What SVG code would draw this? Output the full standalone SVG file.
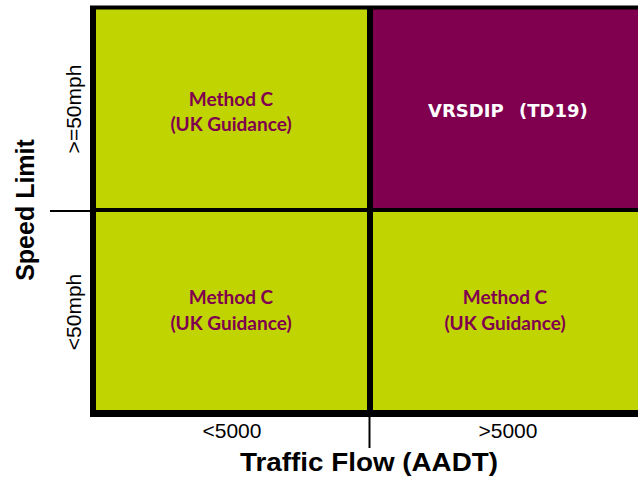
<svg xmlns="http://www.w3.org/2000/svg" width="638" height="479" viewBox="0 0 638 479">
<style>
.green{fill:#BFD400}
.purple{fill:#80004F}
.cell{font-family:Lato,"Open Sans","Liberation Sans",sans-serif;font-weight:bold;font-size:19px;fill:#80004F;text-anchor:middle}
.hd{font-family:"DejaVu Sans",Verdana,sans-serif;font-weight:bold;font-size:18px;fill:#ffffff}
.ax{font-family:"Liberation Sans",Arial,sans-serif;fill:#000;text-anchor:middle}
.line{stroke:#000;fill:none}
</style>
<rect width="638" height="479" fill="#ffffff"/>
<g id="cell-top-left">
<rect class="green" x="96" y="9" width="272" height="200"/>
<text class="cell" x="231" y="106">Method C</text>
<text class="cell" x="231" y="131">(UK Guidance)</text>
</g>
<g id="cell-top-right">
<rect class="purple" x="370" y="9" width="268" height="200"/>
<text class="hd" x="428" y="117">VRSDIP</text>
<text class="hd" x="519" y="117">(TD19)</text>
</g>
<g id="cell-bottom-left">
<rect class="green" x="96" y="211" width="272" height="200"/>
<text class="cell" x="231" y="304">Method C</text>
<text class="cell" x="231" y="330">(UK Guidance)</text>
</g>
<g id="cell-bottom-right">
<rect class="green" x="370" y="211" width="268" height="200"/>
<text class="cell" x="505" y="304">Method C</text>
<text class="cell" x="505" y="330">(UK Guidance)</text>
</g>
<g id="connectors">
<line class="line" x1="90" y1="7.5" x2="638" y2="7.5" stroke-width="4"/>
<line class="line" x1="93" y1="6" x2="93" y2="417" stroke-width="6"/>
<line class="line" x1="93" y1="210" x2="638" y2="210" stroke-width="4"/>
<line class="line" x1="50" y1="211" x2="93" y2="211" stroke-width="2"/>
<line class="line" x1="370" y1="8" x2="370" y2="413" stroke-width="6"/>
<line class="line" x1="369.5" y1="413" x2="369.5" y2="448" stroke-width="2"/>
<line class="line" x1="90" y1="413.5" x2="638" y2="413.5" stroke-width="7"/>
</g>
<g id="axis-labels">
<text class="ax" font-size="25" font-weight="bold" transform="translate(34,210) rotate(-90)">Speed Limit</text>
<text class="ax" font-size="21" transform="translate(81,109) rotate(-90)">&gt;=50mph</text>
<text class="ax" font-size="21" transform="translate(81,312) rotate(-90)">&lt;50mph</text>
<text class="ax" font-size="21" x="232" y="438">&lt;5000</text>
<text class="ax" font-size="21" x="508" y="438">&gt;5000</text>
<text class="ax" font-size="26" font-weight="bold" x="369" y="471" textLength="258" lengthAdjust="spacingAndGlyphs">Traffic Flow (AADT)</text>
</g>
</svg>
